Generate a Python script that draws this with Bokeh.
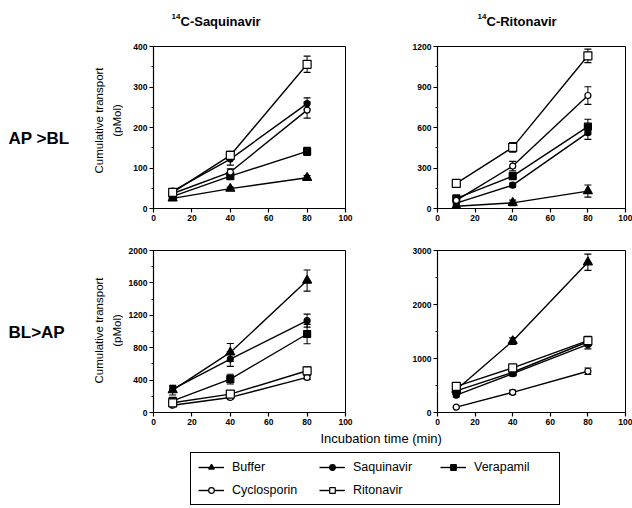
import math
from bokeh.plotting import figure
from bokeh.models import (Range1d, ColumnDataSource, Whisker, TeeHead, Label, Legend,
                          LegendItem, SingleIntervalTicker)
from bokeh.layouts import column, row
from bokeh.embed import file_html
from bokeh.resources import INLINE

# ---------------- data ----------------
times = [10, 40, 80]
series = ["Buffer", "Saquinavir", "Verapamil", "Cyclosporin", "Ritonavir"]

# 14C-Saquinavir, AP > BL
sqv_ap_buffer = [25, 49, 76]
sqv_ap_saquinavir = [43, 122, 259]
sqv_ap_verapamil = [30, 80, 141]
sqv_ap_cyclosporin = [37, 90, 243]
sqv_ap_ritonavir = [40, 131, 356]
sqv_ap_err = {"Buffer": [3, 4, 5], "Saquinavir": [4, 15, 14], "Verapamil": [3, 6, 10],
              "Cyclosporin": [4, 8, 20], "Ritonavir": [4, 10, 20]}

# 14C-Ritonavir, AP > BL
rtv_ap_buffer = [17, 42, 129]
rtv_ap_saquinavir = [40, 173, 562]
rtv_ap_verapamil = [75, 240, 606]
rtv_ap_cyclosporin = [60, 314, 837]
rtv_ap_ritonavir = [186, 453, 1131]
rtv_ap_err = {"Buffer": [5, 20, 45], "Saquinavir": [8, 15, 50], "Verapamil": [15, 25, 55],
              "Cyclosporin": [10, 35, 65], "Ritonavir": [20, 35, 50]}

# 14C-Saquinavir, BL > AP
sqv_bl_buffer = [276, 742, 1629]
sqv_bl_saquinavir = [290, 660, 1134]
sqv_bl_verapamil = [144, 412, 969]
sqv_bl_cyclosporin = [90, 186, 433]
sqv_bl_ritonavir = [120, 227, 515]
sqv_bl_err = {"Buffer": [60, 110, 130], "Saquinavir": [30, 90, 80], "Verapamil": [30, 60, 120],
              "Cyclosporin": [10, 20, 25], "Ritonavir": [15, 25, 50]}

# 14C-Ritonavir, BL > AP
rtv_bl_buffer = [422, 1323, 2783]
rtv_bl_saquinavir = [320, 720, 1260]
rtv_bl_verapamil = [400, 745, 1310]
rtv_bl_cyclosporin = [99, 373, 764]
rtv_bl_ritonavir = [484, 826, 1330]
rtv_bl_err = {"Buffer": [30, 60, 150], "Saquinavir": [30, 40, 80], "Verapamil": [30, 40, 80],
              "Cyclosporin": [10, 40, 60], "Ritonavir": [40, 40, 80]}

panels = {
    "tl": dict(zip(series, [sqv_ap_buffer, sqv_ap_saquinavir, sqv_ap_verapamil, sqv_ap_cyclosporin, sqv_ap_ritonavir])),
    "tr": dict(zip(series, [rtv_ap_buffer, rtv_ap_saquinavir, rtv_ap_verapamil, rtv_ap_cyclosporin, rtv_ap_ritonavir])),
    "bl": dict(zip(series, [sqv_bl_buffer, sqv_bl_saquinavir, sqv_bl_verapamil, sqv_bl_cyclosporin, sqv_bl_ritonavir])),
    "br": dict(zip(series, [rtv_bl_buffer, rtv_bl_saquinavir, rtv_bl_verapamil, rtv_bl_cyclosporin, rtv_bl_ritonavir])),
}
errors = {"tl": sqv_ap_err, "tr": rtv_ap_err, "bl": sqv_bl_err, "br": rtv_bl_err}
y_max = {"tl": 400, "tr": 1200, "bl": 2000, "br": 3000}
y_step = {"tl": 100, "tr": 300, "bl": 400, "br": 1000}

# ---------------- styles ----------------
FONT = "Liberation Sans"
LW = 1.4
marker_style = {
    "Buffer": ("triangle", "black", 9),
    "Saquinavir": ("circle", "black", 6),
    "Verapamil": ("square", "black", 7),
    "Cyclosporin": ("circle", "white", 6),
    "Ritonavir": ("square", "white", 8),
}


def blank_fig(w, h):
    f = figure(frame_width=w, frame_height=h, x_range=Range1d(0, 1), y_range=Range1d(0, 1),
               output_backend="svg", toolbar_location=None,
               x_axis_location=None, y_axis_location=None, min_border=0)
    f.grid.visible = False
    f.outline_line_color = None
    f.border_fill_color = "white"
    f.background_fill_color = "white"
    return f


def make_panel(key, frame_w, mbl, mbr, mbt, mbb):
    p = figure(frame_width=frame_w, frame_height=162,
               x_range=Range1d(0, 100), y_range=Range1d(0, y_max[key]),
               output_backend="svg", toolbar_location=None,
               min_border_left=mbl, min_border_right=mbr,
               min_border_top=mbt, min_border_bottom=mbb)
    p.grid.visible = False
    p.outline_line_color = "black"
    p.outline_line_width = 1
    p.outline_line_alpha = 1
    p.background_fill_color = "white"
    p.border_fill_color = "white"
    p.xaxis.ticker = SingleIntervalTicker(interval=20, num_minor_ticks=0)
    p.yaxis.ticker = SingleIntervalTicker(interval=y_step[key], num_minor_ticks=2)
    for ax in (p.xaxis[0], p.yaxis[0]):
        ax.axis_line_color = "black"
        ax.axis_line_width = 1.2
        ax.major_tick_line_color = "black"
        ax.minor_tick_line_color = "black"
        ax.major_tick_line_width = 1.2
        ax.major_tick_out = 4
        ax.major_tick_in = 0
        ax.minor_tick_out = 2
        ax.minor_tick_in = 0
        ax.major_label_text_font = FONT
        ax.major_label_text_font_size = "8.5px"
        ax.major_label_text_font_style = "bold"
        ax.major_label_text_color = "black"
        ax.major_label_standoff = 2

    data = panels[key]
    errs = errors[key]
    for name in series:
        p.line(times, data[name], line_color="black", line_width=LW)
    for name in series:
        ys = data[name]
        es = errs[name]
        src = ColumnDataSource(dict(x=times,
                                    upper=[y + e for y, e in zip(ys, es)],
                                    lower=[y - e for y, e in zip(ys, es)]))
        w = Whisker(source=src, base="x", upper="upper", lower="lower", dimension="height",
                    line_color="black", line_width=1,
                    upper_head=TeeHead(size=7, line_color="black", line_width=1.2),
                    lower_head=TeeHead(size=7, line_color="black", line_width=1.2))
        p.add_layout(w)
    for name in series:
        mk, fill, size = marker_style[name]
        p.scatter(times, data[name], marker=mk, size=size, fill_color=fill,
                  line_color="black", line_width=1.2)
    return p


def add_label(p, text, x, y, size, bold=False, angle=0.0, align="left"):
    p.add_layout(Label(x=x, y=y, x_units="screen", y_units="screen", text=text,
                       text_font=FONT, text_font_size=size,
                       text_font_style="bold" if bold else "normal",
                       text_color="black", angle=angle,
                       text_align=align, text_baseline="middle"))


# ---- layout (canvas coords, origin top-left of page) ----
# title strip: y 0-40
ts = blank_fig(632, 40)
add_label(ts, "14", 171, 40 - 16, "8px", bold=True)
add_label(ts, "C-Saquinavir", 180, 40 - 21, "13px", bold=True)
add_label(ts, "14", 477, 40 - 16, "8px", bold=True)
add_label(ts, "C-Ritonavir", 486, 40 - 21, "13px", bold=True)

# row 1: y 40-236, frames y 46-208
lt1 = blank_fig(123, 196)
add_label(lt1, "AP >BL", 8, 236 - 132, "17px", bold=True)
add_label(lt1, "Cumulative transport", 98, 236 - 114, "11.5px", angle=math.pi / 2, align="center")
add_label(lt1, "(pMol)", 116, 236 - 114, "11.5px", angle=math.pi / 2, align="center")
tl = make_panel("tl", 192, 30, 10, 6, 28)     # frame x 153-345
tr = make_panel("tr", 188, 82, 7, 6, 28)      # frame x 437-625

# row 2: y 236-430, frames y 250-412
lt2 = blank_fig(123, 194)
add_label(lt2, "BL>AP", 8, 430 - 318, "17px", bold=True)
add_label(lt2, "Cumulative transport", 98, 430 - 316, "11.5px", angle=math.pi / 2, align="center")
add_label(lt2, "(pMol)", 116, 430 - 316, "11.5px", angle=math.pi / 2, align="center")
bl = make_panel("bl", 192, 30, 10, 14, 18)
br = make_panel("br", 188, 82, 7, 14, 18)

# legend strip: y 430-508
lf = blank_fig(632, 78)
add_label(lf, "Incubation time (min)", 320, 508 - 438, "13px")

items = []
for name in series:
    mk, fill, size = marker_style[name]
    # sample renderers for the legend (their points fall outside this strip's 0-1 ranges)
    lr = lf.line(times, panels["tl"][name], line_color="black", line_width=LW)
    sr = lf.scatter(times, panels["tl"][name], marker=mk, size=size, fill_color=fill,
                    line_color="black", line_width=1.2)
    items.append(LegendItem(label=name, renderers=[lr, sr]))

legend = Legend(items=items, location=(190, 3), orientation="horizontal", ncols=3,
                glyph_width=26, glyph_height=14, label_standoff=8, label_width=78,
                label_height=14, spacing=9, padding=7, margin=0,
                border_line_color="black", border_line_width=1.2, border_line_alpha=1,
                background_fill_color="white", background_fill_alpha=1,
                label_text_font=FONT, label_text_font_size="12.5px", label_text_color="black")
lf.add_layout(legend)

layout = column(ts, row(lt1, tl, tr), row(lt2, bl, br), lf)

open("out.html", "w").write(file_html(layout, INLINE))
